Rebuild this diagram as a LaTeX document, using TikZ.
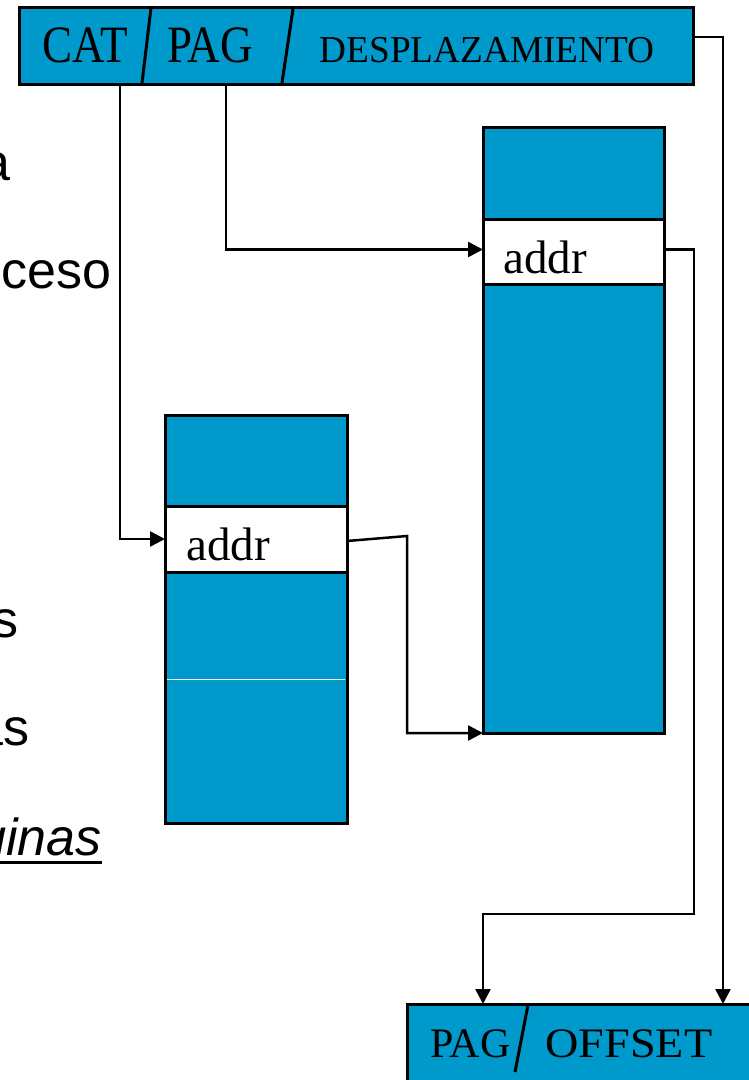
\documentclass[tikz,border=0pt]{standalone}
\usepackage{graphicx}
\usepackage{fontspec}
\setmainfont{Liberation Serif}
\newfontfamily\sansf{Liberation Sans}
\usetikzlibrary{arrows.meta}
\definecolor{tblue}{RGB}{0,153,204}
\begin{document}
\begin{tikzpicture}[x=1pt,y=-1pt,
  cell/.style={draw=black,line width=3pt,fill=tblue,inner sep=0pt,outer sep=0pt},
  rowbox/.style={draw=black,line width=3pt,fill=white,inner sep=0pt,outer sep=0pt},
  conn/.style={line width=2.5pt,line join=miter},
  arr/.style={conn,-{Triangle[length=15pt,width=15pt]}},
  lbl/.style={inner sep=0pt,anchor=base},
  side/.style={inner sep=0pt,anchor=base east,font=\sansf\fontsize{52}{60}\selectfont}]
\useasboundingbox (0,0) rectangle (749,1080);
\clip (0,0) rectangle (749,1080);

% logical address: CAT / PAG / DESPLAZAMIENTO
\node[cell,minimum width=674pt,minimum height=77pt] (addrbox) at (356,45.5) {};
\draw[line width=3pt] (151,8) -- (142,83);
\draw[line width=3pt] (293,9) -- (282,83);
\node[lbl,font=\fontsize{50}{60}\selectfont] (catlbl) at (85,62) {\scalebox{0.9}[1.05]{CAT}};
\node[lbl,font=\fontsize{50}{60}\selectfont] (paglbl) at (210,62) {\scalebox{0.9}[1.05]{PAG}};
\node[lbl,font=\fontsize{38}{46}\selectfont] (deslbl) at (487,62) {\scalebox{0.98}[1]{DESPLAZAMIENTO}};

% category table
\node[cell,minimum width=182pt,minimum height=408pt] (smalltab) at (256,619) {};
\node[rowbox,minimum width=182pt,minimum height=66pt] (smalladdr) at (256,539) {};
\draw[white,line width=1pt] (167,679) -- (345,679);
\node[inner sep=0pt,anchor=base west,font=\fontsize{47}{56}\selectfont] (smalltxt) at (186,560) {addr};

% page table
\node[cell,minimum width=181pt,minimum height=606pt] (bigtab) at (573.5,430) {};
\node[rowbox,minimum width=181pt,minimum height=65pt] (bigaddr) at (573.5,251.5) {};
\node[inner sep=0pt,anchor=base west,font=\fontsize{47}{56}\selectfont] (bigtxt) at (503,273) {addr};

% physical address: PAG / OFFSET
\node[cell,anchor=north west,minimum width=360pt,minimum height=100pt] (outbox) at (407,1004) {};
\draw[line width=3pt] (528,1005) -- (515,1072);
\node[lbl,font=\fontsize{42}{50}\selectfont] (outpag) at (470.5,1057) {PAG};
\node[lbl,font=\fontsize{42}{50}\selectfont] (outoff) at (629,1057) {\scalebox{1.1}[1]{OFFSET}};

% connectors
\coordinate (k1) at (407,536);
\coordinate (k2) at (694,914);
\coordinate (k3) at (723,37);
\draw[arr] ([xshift=101pt]addrbox.south west) |- (smalladdr.west);
\draw[arr] ([xshift=207pt]addrbox.south west) |- ([yshift=2pt]bigaddr.west);
\draw[arr] ([yshift=-2pt]smalladdr.east) -- (k1) |- (bigtab.south west);
\draw[arr] ([yshift=2pt]bigaddr.east) -| (k2) -| ([xshift=76pt]outbox.north west);
\draw[arr] (addrbox.east |- k3) -- (k3) -- (k3 |- outbox.north);

% slide text at the left edge
\node[side] (fa) at (11,180) {a};
\node[side] (fceso) at (112,288) {ceso};
\node[side] (fs) at (19,637) {s};
\node[side] (fas) at (30,745) {as};
\node[side,font=\sansf\itshape\fontsize{52}{60}\selectfont] (fginas) at (102,855) {ginas};
\draw[line width=3pt] ([yshift=-7pt]fginas.base west) -- ([yshift=-7pt]fginas.base east);
\end{tikzpicture}
\end{document}
